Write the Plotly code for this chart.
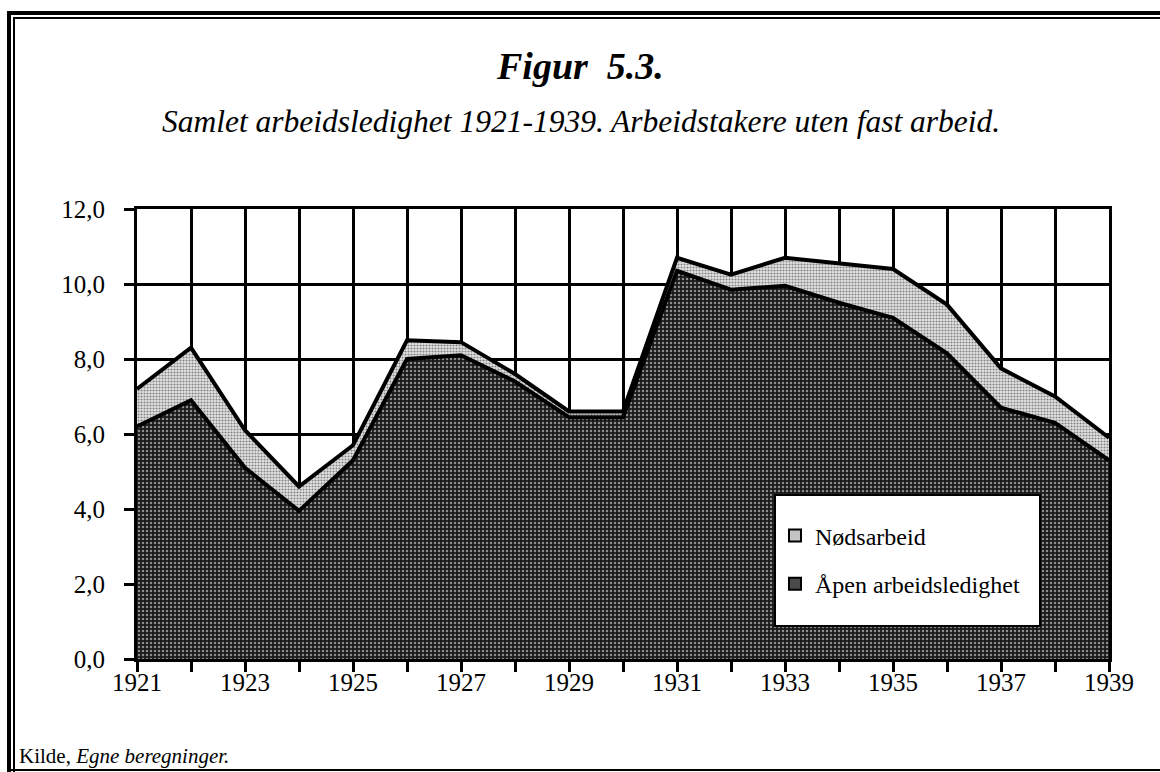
import plotly.graph_objects as go

years = list(range(1921, 1940))
apen = [6.2, 6.9, 5.1, 3.95, 5.3, 8.0, 8.1, 7.4, 6.45, 6.45,
        10.35, 9.85, 9.95, 9.5, 9.1, 8.15, 6.7, 6.3, 5.3]
nods = [1.0, 1.4, 1.0, 0.65, 0.4, 0.5, 0.35, 0.2, 0.15, 0.15,
        0.35, 0.4, 0.75, 1.05, 1.3, 1.3, 1.05, 0.7, 0.6]
y_ticks = [0, 2, 4, 6, 8, 10, 12]
x_ticks = list(range(1921, 1940, 2))
series_names = ["Åpen arbeidsledighet", "Nødsarbeid"]

W, H = 1160, 772
L, R, T, B = 137, 51, 209, 113
pw, ph = W - L - R, H - T - B

def px(x):
    return (x - L) / pw

def py(y):
    return (H - B - y) / ph

FONT = "Liberation Serif"
DARK_BG, LIGHT_BG = "#1a1a1a", "#e4e4e4"

fig = go.Figure()
fig.add_trace(go.Scatter(
    x=years, y=apen, name=series_names[0], stackgroup="one", showlegend=False,
    mode="lines", line=dict(color="black", width=4),
    fillcolor="#303030",
    fillpattern=dict(shape=".", bgcolor=DARK_BG, fgcolor="white", size=4, solidity=0.3),
))
fig.add_trace(go.Scatter(
    x=years, y=nods, name=series_names[1], stackgroup="one", showlegend=False,
    mode="lines", line=dict(color="black", width=4),
    fillcolor="#cccccc",
    fillpattern=dict(shape=".", bgcolor=LIGHT_BG, fgcolor="#222", size=3, solidity=0.4),
))
# legend entries (square swatches)
fig.add_trace(go.Scatter(
    x=[None], y=[None], mode="markers", name=series_names[1], legendgroup="b",
    marker=dict(symbol="square", size=17, color="#c4c4c4", line=dict(color="black", width=3)),
))
fig.add_trace(go.Scatter(
    x=[None], y=[None], mode="markers", name=series_names[0], legendgroup="a",
    marker=dict(symbol="square", size=17, color="#4a4a4a", line=dict(color="black", width=3)),
))

fig.update_layout(
    width=W, height=H,
    margin=dict(l=L, r=R, t=T, b=B, pad=0),
    paper_bgcolor="white", plot_bgcolor="white",
    separators=", ",
    font=dict(family=FONT, size=24, color="black"),
    showlegend=True,
    legend=dict(
        x=px(775), y=py(503), xanchor="left", yanchor="top",
        bgcolor="rgba(0,0,0,0)", borderwidth=0,
        traceorder="grouped", tracegroupgap=14,
        font=dict(family=FONT, size=24, color="black"),
        itemwidth=30, itemsizing="constant",
        title=dict(text="\u00a0", font=dict(size=8)),
    ),
)

fig.update_xaxes(
    range=[1921, 1939], tickvals=x_ticks, ticktext=[str(v) for v in x_ticks],
    ticks="outside", ticklen=10, tickwidth=3, tickcolor="black",
    showgrid=True, gridcolor="black", gridwidth=3,
    showline=True, linecolor="black", linewidth=3, mirror=True,
    tickfont=dict(family=FONT, size=25, color="black"),
    ticklabelstandoff=-11,
    minor=dict(dtick=1, tick0=1921, ticks="outside", ticklen=10, tickwidth=3,
               tickcolor="black", showgrid=True, gridcolor="black", gridwidth=3),
    zeroline=False,
)
fig.update_yaxes(
    range=[0, 12], tickvals=y_ticks, tickformat=".1f",
    ticks="outside", ticklen=10, tickwidth=3, tickcolor="black",
    showgrid=True, gridcolor="black", gridwidth=3,
    showline=True, linecolor="black", linewidth=3, mirror=True,
    tickfont=dict(family=FONT, size=25, color="black"),
    ticklabelstandoff=14,
    zeroline=False,
)

# frame of the figure page and legend box
shapes = [
    dict(type="line", xref="paper", yref="paper", x0=px(7), x1=px(1160), y0=py(13), y1=py(13),
         line=dict(color="black", width=4)),
    dict(type="line", xref="paper", yref="paper", x0=px(13), x1=px(1160), y0=py(18), y1=py(18),
         line=dict(color="black", width=2)),
    dict(type="line", xref="paper", yref="paper", x0=px(9), x1=px(9), y0=py(11), y1=py(772),
         line=dict(color="black", width=4)),
    dict(type="line", xref="paper", yref="paper", x0=px(14), x1=px(14), y0=py(17), y1=py(772),
         line=dict(color="black", width=2)),
    dict(type="line", xref="paper", yref="paper", x0=px(8), x1=px(1160), y0=py(770), y1=py(770),
         line=dict(color="black", width=2)),
    dict(type="rect", xref="paper", yref="paper", x0=px(775), x1=px(1040), y0=py(626), y1=py(495),
         fillcolor="white", line=dict(color="black", width=2), layer="above"),
]
fig.update_layout(shapes=shapes)

fig.add_annotation(
    text="<b><i>Figur\u00a0\u00a05.3.</i></b>", xref="paper", yref="paper",
    x=px(580), y=py(66), xanchor="center", yanchor="middle", showarrow=False,
    font=dict(family=FONT, size=38, color="black"),
)
fig.add_annotation(
    text="<i>Samlet arbeidsledighet 1921-1939. Arbeidstakere uten fast arbeid.</i>",
    xref="paper", yref="paper",
    x=px(581), y=py(122), xanchor="center", yanchor="middle", showarrow=False,
    font=dict(family=FONT, size=31.5, color="black"),
)
fig.add_annotation(
    text="Kilde, <i>Egne beregninger.</i>", xref="paper", yref="paper",
    x=px(17), y=py(756), xanchor="left", yanchor="middle", showarrow=False,
    font=dict(family=FONT, size=21, color="black"),
)

fig.write_html(
    "out.html",
    config={"displayModeBar": False},
    post_script="document.body.style.margin='0';document.body.style.overflow='hidden';",
)
